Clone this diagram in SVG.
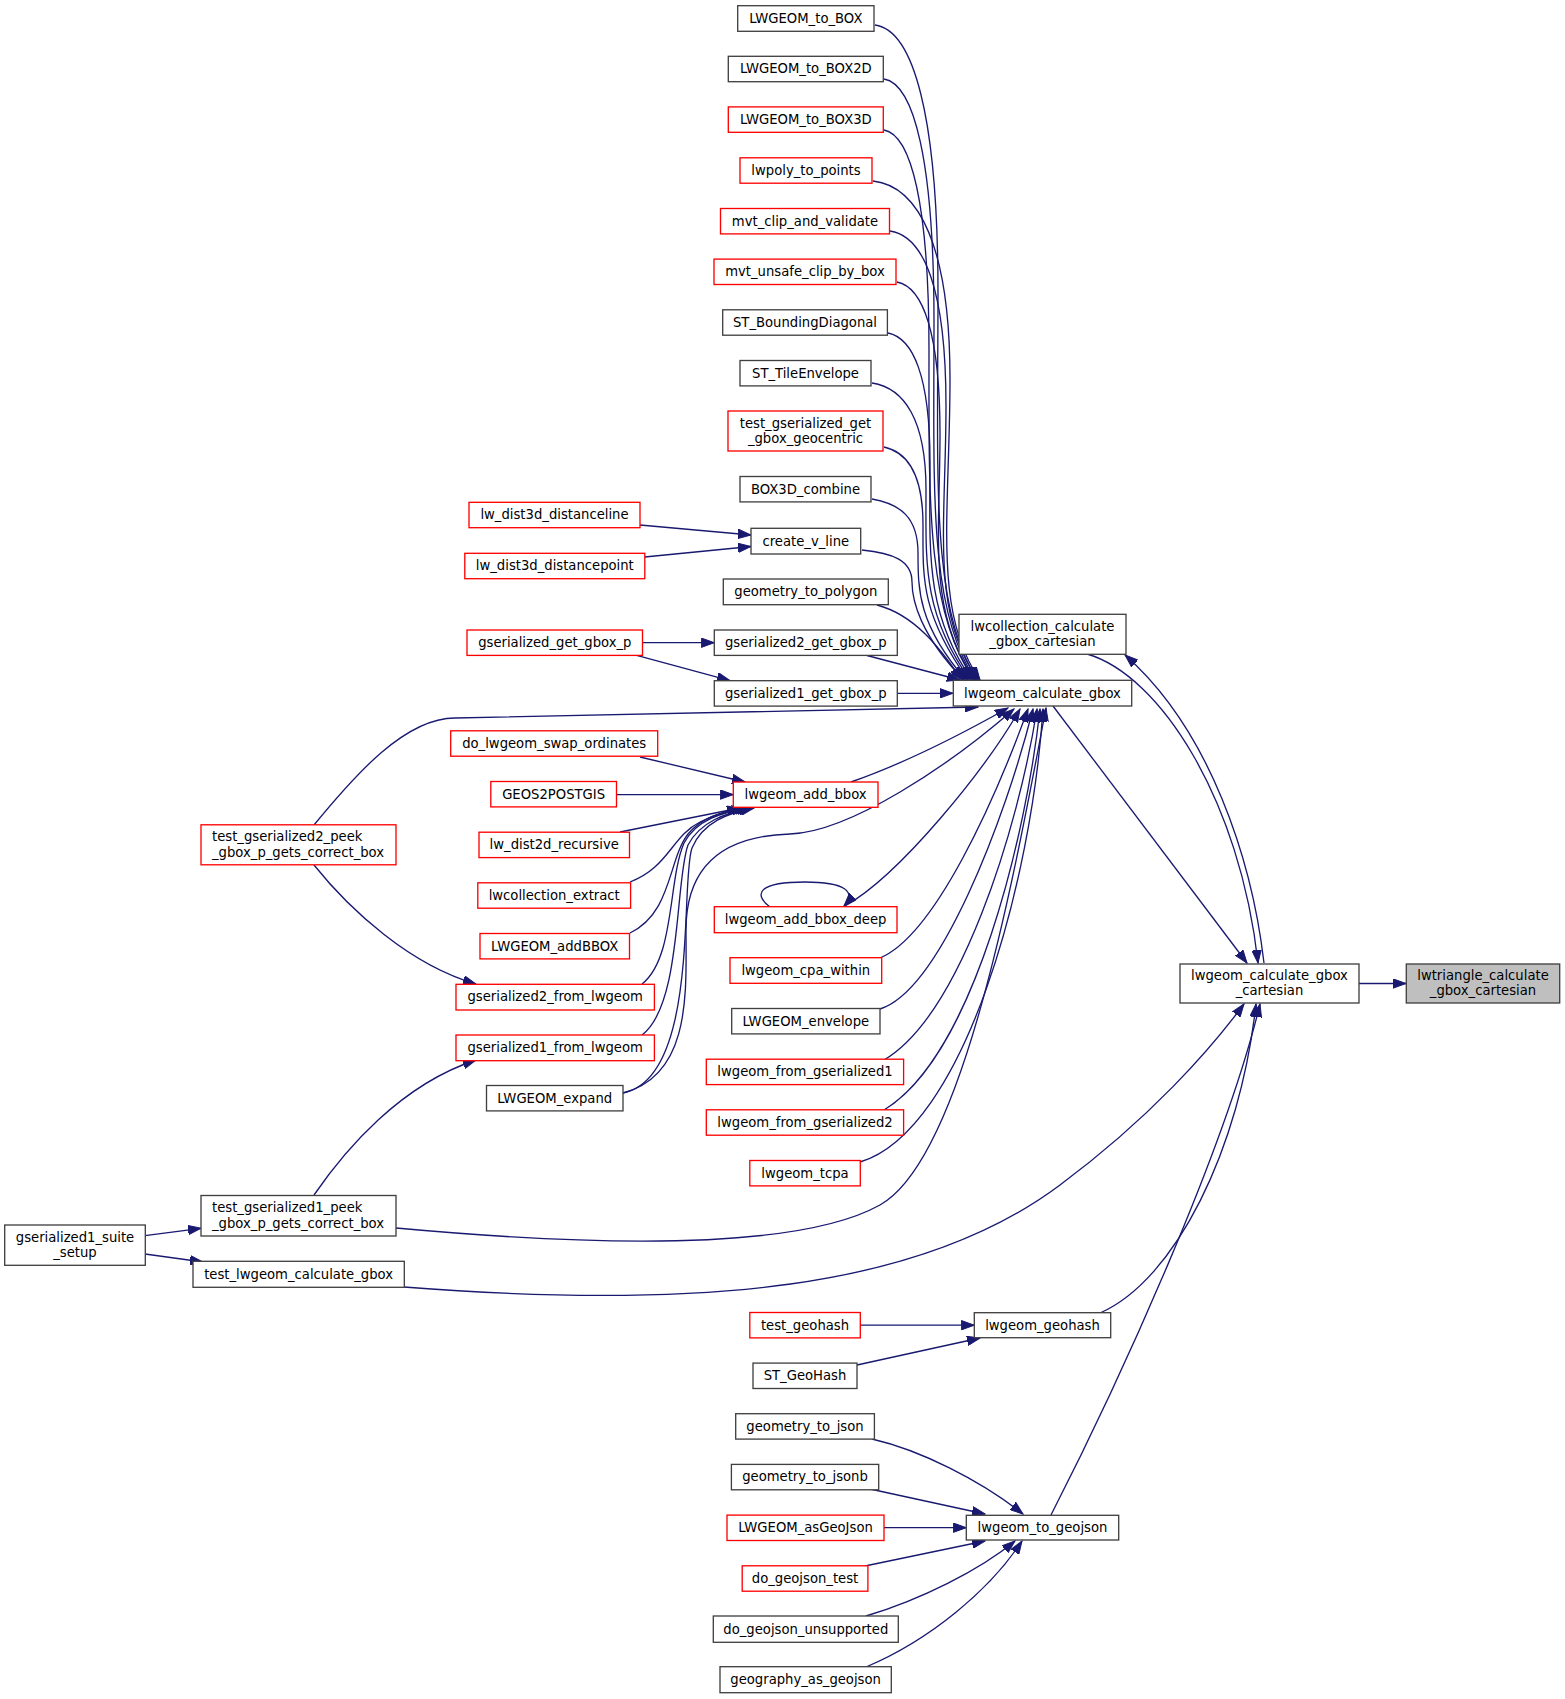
<svg xmlns="http://www.w3.org/2000/svg" width="1565" height="1699" viewBox="0 0 1565 1699">
<style>
.n{fill:#fff;stroke:#404040;stroke-width:1.33}
.r{fill:#fff;stroke:#ff0000;stroke-width:1.33}
.g{fill:#bfbfbf;stroke:#404040;stroke-width:1.33}
text{font-family:"DejaVu Sans","Liberation Sans",sans-serif;font-size:13.2px;fill:#000;text-anchor:middle}
text.l{text-anchor:start}
.e path{fill:none;stroke:#191970;stroke-width:1.33;marker-end:url(#a)}
</style>
<defs>
<marker id="a" markerWidth="14" markerHeight="10" refX="13" refY="5" orient="auto" markerUnits="userSpaceOnUse">
<path d="M0,0.3 L13,5 L0,9.7 z" fill="#191970" stroke="#191970" stroke-width="1"/>
</marker>
</defs>
<rect width="1565" height="1699" fill="#fff"/>
<g class="e">
<path d="M1359 983.5 L1406 983.5"/>
<path d="M1053 706 L1247 963"/>
<path d="M1087 654 C1160 675 1240 800 1258 963"/>
<path d="M1264 963 C1252 860 1210 730 1125 655"/>
<path d="M1100 1313 C1175 1280 1240 1150 1256 1004"/>
<path d="M1051 1515 C1120 1380 1225 1150 1260 1004"/>
<path d="M404 1287 C700 1310 920 1290 1060 1185 C1150 1118 1210 1050 1244 1004"/>
<path d="M396 1228 C560 1243 790 1255 880 1205 C960 1160 1010 900 1046 708"/>
<path d="M314 825 C355 775 405 718 455 718 L978 707"/>
<path d="M897 693.3 L953 693.3"/>
<path d="M867 655.5 L960 680"/>
<path d="M877 605 C915 615 940 648 962 680"/>
<path d="M875 25 C913 30 938 114 938 293 C938 473 930 612 978 680"/>
<path d="M884 79 C914 84 934 160 934 322 C934 486 928 612 976 680"/>
<path d="M884 130 C911 135 929 203 929 350 C929 498 926 612 974 680"/>
<path d="M873 181 C919 186 950 247 950 379 C950 512 932 612 980 680"/>
<path d="M890 231 C924 236 946 289 946 406 C946 524 930 612 978 680"/>
<path d="M897 282 C923 287 940 333 940 434 C940 536 927 612 975 680"/>
<path d="M888 333 C913 338 930 376 930 462 C930 549 924 612 972 680"/>
<path d="M872 383 C904 388 926 419 926 490 C926 562 922 612 970 680"/>
<path d="M884 447 C907 452 923 473 923 525 C923 577 920 612 968 680"/>
<path d="M872 499 C900 504 918 517 918 553 C918 590 918 625 966 680"/>
<path d="M862 550 C892 553 912 560 912 582 C912 600 920 635 964 680"/>
<path d="M851 782 C900 765 960 735 1008 708"/>
<path d="M845 906 C900 875 985 770 1020 709"/>
<path d="M880 958 C935 935 995 800 1028 709"/>
<path d="M880 1009 C940 990 1005 820 1033 709"/>
<path d="M884 1060 C960 1015 1018 830 1037 709"/>
<path d="M884 1110 C975 1055 1027 830 1040 709"/>
<path d="M860 1162 C965 1130 1032 880 1043 709"/>
<path d="M623 1093 C692 1075 686 990 686 930 C686 870 718 836 790 834 C850 832 950 765 1014 709"/>
<path d="M770 907 C752 893 760 882 805 882 C845 882 857 892 844 906"/>
<path d="M640 757 L745 782"/>
<path d="M616.5 794.6 L733.3 794.6"/>
<path d="M620 832 L740 808"/>
<path d="M630 882 C668 868 672 836 700 822 C715 814 728 811 745 808"/>
<path d="M630 933 C672 913 668 860 688 834 C703 816 725 811 748 808"/>
<path d="M642 984 C675 958 668 880 684 843 C696 820 722 812 750 808"/>
<path d="M642 1035 C682 1005 675 880 688 845 C700 822 725 813 752 808"/>
<path d="M623 1093 C700 1078 680 880 692 848 C703 822 728 813 754 808"/>
<path d="M314 865 C350 910 410 965 476 984"/>
<path d="M314 1195 C345 1150 400 1085 476 1060"/>
<path d="M145 1235.7 L201 1228.3"/>
<path d="M145 1254 L203 1262"/>
<path d="M640 525 L751 535"/>
<path d="M644.7 557 L751 546.5"/>
<path d="M642.5 642.7 L714.3 642.7"/>
<path d="M633 654.4 L730 680.7"/>
<path d="M860.3 1325.2 L974.3 1325.2"/>
<path d="M857 1365 L980 1338"/>
<path d="M872 1439 C920 1450 980 1480 1023 1514"/>
<path d="M870 1489 L985 1514"/>
<path d="M884 1527.7 L966.3 1527.7"/>
<path d="M865 1566 L985 1541"/>
<path d="M866 1616 C920 1600 980 1570 1015 1541"/>
<path d="M866 1667 C930 1640 990 1590 1022 1541"/>
</g>
<g id="n1"><rect class="n" x="737.7" y="5.7" width="136.3" height="25.6"/><text x="805.8" y="22.8">LWGEOM_to_BOX</text></g>
<g id="n2"><rect class="n" x="728.3" y="56.3" width="155" height="25.4"/><text x="805.8" y="73.3">LWGEOM_to_BOX2D</text></g>
<g id="n3"><rect class="r" x="728.3" y="106.9" width="155" height="25.4"/><text x="805.8" y="123.9">LWGEOM_to_BOX3D</text></g>
<g id="n4"><rect class="r" x="740" y="157.8" width="132" height="25.4"/><text x="806" y="174.8">lwpoly_to_points</text></g>
<g id="n5"><rect class="r" x="720.5" y="208.5" width="169" height="25.4"/><text x="805" y="225.5">mvt_clip_and_validate</text></g>
<g id="n6"><rect class="r" x="714" y="259.1" width="182" height="25.4"/><text x="805" y="276.1">mvt_unsafe_clip_by_box</text></g>
<g id="n7"><rect class="n" x="722.7" y="309.8" width="164.7" height="25.4"/><text x="805" y="326.8">ST_BoundingDiagonal</text></g>
<g id="n8"><rect class="n" x="740" y="360.5" width="131" height="25.4"/><text x="805.5" y="377.5">ST_TileEnvelope</text></g>
<g id="n9"><rect class="r" x="728" y="411" width="155" height="40"/><text x="805.5" y="427.5">test_gserialized_get</text><text x="805.5" y="442.8">_gbox_geocentric</text></g>
<g id="n10"><rect class="n" x="740" y="476.5" width="131" height="25.4"/><text x="805.5" y="493.5">BOX3D_combine</text></g>
<g id="n11"><rect class="n" x="751" y="528.3" width="109.7" height="25.7"/><text x="805.8" y="545.5">create_v_line</text></g>
<g id="n12"><rect class="r" x="469" y="502.3" width="171" height="25.4"/><text x="554.5" y="519.3">lw_dist3d_distanceline</text></g>
<g id="n13"><rect class="r" x="464.8" y="553.3" width="180" height="25.4"/><text x="554.8" y="570.3">lw_dist3d_distancepoint</text></g>
<g id="n14"><rect class="n" x="723.3" y="579" width="165" height="25.7"/><text x="805.8" y="596.1">geometry_to_polygon</text></g>
<g id="n15"><rect class="r" x="467" y="630" width="175.5" height="25.4"/><text x="554.8" y="647">gserialized_get_gbox_p</text></g>
<g id="n16"><rect class="n" x="714.3" y="630" width="183" height="25.4"/><text x="805.8" y="647">gserialized2_get_gbox_p</text></g>
<g id="n17"><rect class="n" x="714.3" y="680.7" width="183" height="25.4"/><text x="805.8" y="697.7">gserialized1_get_gbox_p</text></g>
<g id="n18"><rect class="n" x="953.3" y="680.3" width="178.4" height="25.7"/><text x="1042.5" y="697.5">lwgeom_calculate_gbox</text></g>
<g id="n19"><rect class="n" x="959" y="614.3" width="167" height="40"/><text x="1042.5" y="630.8">lwcollection_calculate</text><text x="1042.5" y="646.1">_gbox_cartesian</text></g>
<g id="n20"><rect class="r" x="450.7" y="730.8" width="207" height="25.4"/><text x="554.2" y="747.8">do_lwgeom_swap_ordinates</text></g>
<g id="n21"><rect class="r" x="490.8" y="781.5" width="125.7" height="25.4"/><text x="553.6" y="798.5">GEOS2POSTGIS</text></g>
<g id="n22"><rect class="r" x="479" y="832.2" width="150.5" height="25.4"/><text x="554.2" y="849.2">lw_dist2d_recursive</text></g>
<g id="n23"><rect class="r" x="477.8" y="882.8" width="152.8" height="25.4"/><text x="554.2" y="899.8">lwcollection_extract</text></g>
<g id="n24"><rect class="r" x="480" y="933.5" width="149.5" height="25.4"/><text x="554.7" y="950.5">LWGEOM_addBBOX</text></g>
<g id="n25"><rect class="r" x="456" y="984.3" width="198.4" height="25.7"/><text x="555.2" y="1001.4">gserialized2_from_lwgeom</text></g>
<g id="n26"><rect class="r" x="456" y="1035" width="198.4" height="25.7"/><text x="555.2" y="1052.1">gserialized1_from_lwgeom</text></g>
<g id="n27"><rect class="n" x="486.5" y="1085.5" width="136.5" height="25.4"/><text x="554.7" y="1102.5">LWGEOM_expand</text></g>
<g id="n28"><rect class="r" x="733.3" y="782" width="144.7" height="25.3"/><text x="805.6" y="798.9">lwgeom_add_bbox</text></g>
<g id="n29"><rect class="r" x="714.3" y="906.7" width="182.7" height="26"/><text x="805.6" y="924">lwgeom_add_bbox_deep</text></g>
<g id="n30"><rect class="r" x="730" y="957.7" width="151.7" height="25.6"/><text x="805.8" y="974.8">lwgeom_cpa_within</text></g>
<g id="n31"><rect class="n" x="731.7" y="1008.5" width="148.3" height="25.4"/><text x="805.8" y="1025.5">LWGEOM_envelope</text></g>
<g id="n32"><rect class="r" x="706.3" y="1059.2" width="197.3" height="25.4"/><text x="805" y="1076.2">lwgeom_from_gserialized1</text></g>
<g id="n33"><rect class="r" x="706.3" y="1109.8" width="197.3" height="25.4"/><text x="805" y="1126.8">lwgeom_from_gserialized2</text></g>
<g id="n34"><rect class="r" x="749.8" y="1160.5" width="110.5" height="25.4"/><text x="805" y="1177.5">lwgeom_tcpa</text></g>
<g id="n35"><rect class="r" x="201" y="824.8" width="195" height="40"/><text class="l" x="212" y="841.3">test_gserialized2_peek</text><text class="l" x="212" y="856.6">_gbox_p_gets_correct_box</text></g>
<g id="n36"><rect class="n" x="201" y="1195.5" width="195" height="40.5"/><text class="l" x="212" y="1212.2">test_gserialized1_peek</text><text class="l" x="212" y="1227.5">_gbox_p_gets_correct_box</text></g>
<g id="n37"><rect class="n" x="4.7" y="1225" width="140.6" height="40.3"/><text x="75" y="1241.6">gserialized1_suite</text><text x="75" y="1256.9">_setup</text></g>
<g id="n38"><rect class="n" x="193" y="1261.3" width="211.3" height="26"/><text x="298.6" y="1278.6">test_lwgeom_calculate_gbox</text></g>
<g id="n39"><rect class="n" x="1180" y="964" width="179" height="39"/><text x="1269.5" y="980">lwgeom_calculate_gbox</text><text x="1269.5" y="995.3">_cartesian</text></g>
<g id="n40"><rect class="g" x="1406.3" y="964" width="153.4" height="39"/><text x="1483" y="980">lwtriangle_calculate</text><text x="1483" y="995.3">_gbox_cartesian</text></g>
<g id="n41"><rect class="n" x="974.3" y="1312.7" width="136.4" height="25"/><text x="1042.5" y="1329.5">lwgeom_geohash</text></g>
<g id="n42"><rect class="r" x="749.8" y="1312.5" width="110.5" height="25.4"/><text x="805" y="1329.5">test_geohash</text></g>
<g id="n43"><rect class="n" x="753" y="1363.1" width="104" height="25.4"/><text x="805" y="1380.1">ST_GeoHash</text></g>
<g id="n44"><rect class="n" x="735.7" y="1413.7" width="138.7" height="25.4"/><text x="805" y="1430.7">geometry_to_json</text></g>
<g id="n45"><rect class="n" x="731.4" y="1464.4" width="147.3" height="25.4"/><text x="805" y="1481.4">geometry_to_jsonb</text></g>
<g id="n46"><rect class="r" x="727" y="1515.1" width="157" height="25.4"/><text x="805.5" y="1532.1">LWGEOM_asGeoJson</text></g>
<g id="n47"><rect class="n" x="966.3" y="1515.3" width="152.4" height="24.7"/><text x="1042.5" y="1532">lwgeom_to_geojson</text></g>
<g id="n48"><rect class="r" x="742.2" y="1565.8" width="125.7" height="25.4"/><text x="805" y="1582.8">do_geojson_test</text></g>
<g id="n49"><rect class="n" x="713.3" y="1616" width="185" height="26.3"/><text x="805.8" y="1633.5">do_geojson_unsupported</text></g>
<g id="n50"><rect class="n" x="720" y="1666.7" width="171.3" height="26"/><text x="805.6" y="1684">geography_as_geojson</text></g>
</svg>
